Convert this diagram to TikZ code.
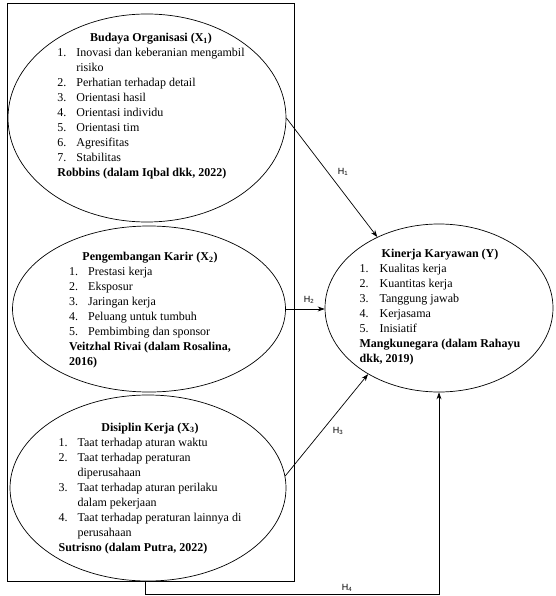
\documentclass[tikz,border=0pt]{standalone}
\usepackage{fontspec}
\setmainfont{Liberation Serif}
\setsansfont{Liberation Sans}
\usetikzlibrary{shapes.geometric,arrows.meta}

\begin{document}
\begin{tikzpicture}[x=1pt,y=-1pt,
  oval/.style={draw,ellipse,inner sep=0pt,line width=0.7pt},
  listtext/.style={inner sep=0pt,font=\fontsize{12}{15}\selectfont},
  hyp/.style={inner sep=0pt,font=\sffamily\fontsize{9}{10}\selectfont},
  link/.style={line width=0.7pt,-{Stealth[length=7pt,width=5pt]}}]
\useasboundingbox (0,0) rectangle (555,596);
% frame round the independent variables
\node[draw,line width=0.7pt,minimum width=287pt,minimum height=578pt,inner sep=0pt] (frame) at (150.5,292) {};
% X1
\node[oval,minimum width=278pt,minimum height=208pt] (x1) at (147,118) {};
\node[listtext] (x1t) at (151,106) {\begin{tabular}{@{}p{19pt}@{}l@{}}
\multicolumn{2}{c}{\bfseries Budaya Organisasi (X\textsubscript{1})}\\
1. & Inovasi dan keberanian mengambil\\
   & risiko\\
2. & Perhatian terhadap detail\\
3. & Orientasi hasil\\
4. & Orientasi individu\\
5. & Orientasi tim\\
6. & Agresifitas\\
7. & Stabilitas\\
\multicolumn{2}{@{}l@{}}{\bfseries Robbins (dalam Iqbal dkk, 2022)}
\end{tabular}};
% X2
\node[oval,minimum width=273pt,minimum height=166pt] (x2) at (149,309) {};
\node[listtext] (x2t) at (150,310) {\begin{tabular}{@{}p{19pt}@{}l@{}}
\multicolumn{2}{c}{\bfseries Pengembangan Karir (X\textsubscript{2})}\\
1. & Prestasi kerja\\
2. & Eksposur\\
3. & Jaringan kerja\\
4. & Peluang untuk tumbuh\\
5. & Pembimbing dan sponsor\\
\multicolumn{2}{@{}l@{}}{\bfseries Veitzhal Rivai (dalam Rosalina,}\\
\multicolumn{2}{@{}l@{}}{\bfseries 2016)}
\end{tabular}};
% X3
\node[oval,minimum width=276pt,minimum height=186pt] (x3) at (148,488) {};
\node[listtext] (x3t) at (150,488) {\begin{tabular}{@{}p{19pt}@{}l@{}}
\multicolumn{2}{c}{\bfseries Disiplin Kerja (X\textsubscript{3})}\\
1. & Taat terhadap aturan waktu\\
2. & Taat terhadap peraturan\\
   & diperusahaan\\
3. & Taat terhadap aturan perilaku\\
   & dalam pekerjaan\\
4. & Taat terhadap peraturan lainnya di\\
   & perusahaan\\
\multicolumn{2}{@{}l@{}}{\bfseries Sutrisno (dalam Putra, 2022)}
\end{tabular}};
% Y
\node[oval,minimum width=228pt,minimum height=168pt] (ky) at (439,308) {};
\node[listtext] (kyt) at (440,307) {\begin{tabular}{@{}p{20pt}@{}l@{}}
\multicolumn{2}{c}{\bfseries Kinerja Karyawan (Y)}\\
1. & Kualitas kerja\\
2. & Kuantitas kerja\\
3. & Tanggung jawab\\
4. & Kerjasama\\
5. & Inisiatif\\
\multicolumn{2}{@{}l@{}}{\bfseries Mangkunegara (dalam Rahayu}\\
\multicolumn{2}{@{}l@{}}{\bfseries dkk, 2019)}
\end{tabular}};
% hypotheses
\draw[link] (x1.east) -- (ky.131);
\draw[link] (x2.east) -- (x2.east -| ky.west);
\draw[link] (x3.5) -- (ky.223);
\coordinate (h4) at (145,594);
\draw[link] (h4 |- frame.south) -- (h4) -| (ky.south);
\node[hyp] (h1) at (343,172) {H\textsubscript{1}};
\node[hyp] (h2) at (309,300) {H\textsubscript{2}};
\node[hyp] (h3) at (338,431) {H\textsubscript{3}};
\node[hyp] (h4t) at (347,588) {H\textsubscript{4}};
\end{tikzpicture}
\end{document}
